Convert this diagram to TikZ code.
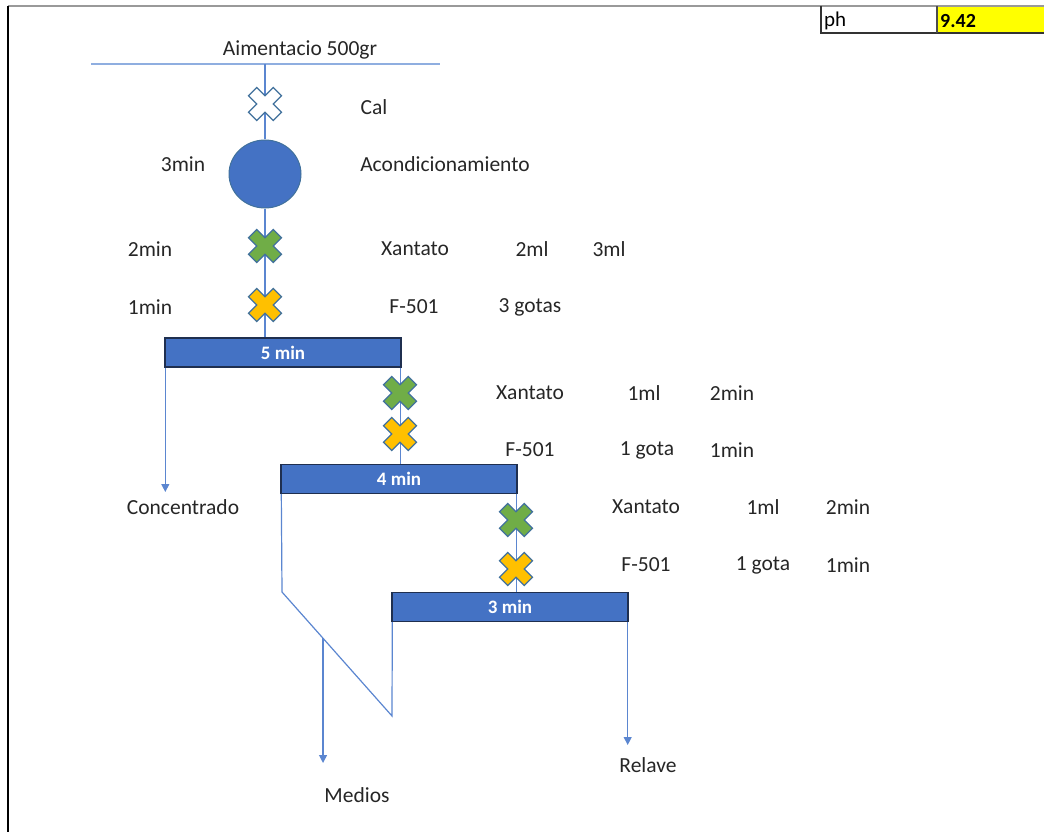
\documentclass[tikz,border=0pt]{standalone}
\usepackage{fontspec}
\setmainfont{Carlito}
\usetikzlibrary{arrows.meta,shapes.geometric,calc}
\definecolor{boxblue}{HTML}{4472C4}
\definecolor{boxedge}{HTML}{1F2F4F}
\definecolor{linec}{HTML}{5B86D0}
\definecolor{feedc}{HTML}{8FAEE0}
\definecolor{xedge}{HTML}{41719C}
\definecolor{xgreen}{HTML}{70AD47}
\definecolor{xyellow}{HTML}{FFC000}
\definecolor{txtc}{HTML}{262626}
\definecolor{cellyellow}{HTML}{FFFF00}
\begin{document}
\begin{tikzpicture}[x=1pt,y=-1pt,
  txt/.style={text=txtc,font=\fontsize{21.5}{25}\selectfont,inner sep=0pt},
  celltxt/.style={text=black,font=\fontsize{21}{24}\selectfont,inner sep=0pt,anchor=west},
  boxst/.style={draw=boxedge,line width=1.4pt,fill=boxblue,text=white,
    font=\bfseries\fontsize{19}{22}\selectfont,minimum width=236pt,minimum height=29pt,inner sep=0pt},
  flow/.style={draw=linec,line width=1.2pt},
  outflow/.style={flow,-{Triangle[width=8pt,length=8pt]}},
  xslot/.style={minimum size=32pt,inner sep=0pt,draw=none},
  pics/xcross/.style={code={
    \filldraw[draw=xedge,line width=1.2pt,fill=#1,rotate=45]
      (5.8,5.8) -- (17.5,5.8) -- (17.5,-5.8) -- (5.8,-5.8) -- (5.8,-17.5) -- (-5.8,-17.5)
      -- (-5.8,-5.8) -- (-17.5,-5.8) -- (-17.5,5.8) -- (-5.8,5.8) -- (-5.8,17.5) -- (5.8,17.5) -- cycle;}}
]
\useasboundingbox (0,0) rectangle (1044,832);
% frame
\draw[gray!80,line width=1.2pt] (8,6) -- (1044,6);
\draw[black,line width=2pt] (8,6) -- (8,832);
% ph cells
\fill[cellyellow] (937,7) rectangle (1044,32);
\draw[black!80,line width=1.2pt] (821,6) -- (821,33) -- (1044,33);
\draw[black!70,line width=1.2pt] (937,6) -- (937,33);
\node[celltxt] (ph) at (824,21) {ph};
\node[celltxt,font=\bfseries\fontsize{20}{24}\selectfont] (phv) at (940,21) {9.42};

% feed
\node[txt] (feedlbl) at (300,50) {Aimentacio 500gr};
\coordinate (feedL) at (91,64);
\coordinate (feedR) at (440,64);
\coordinate (feedM) at (265,64);
\draw[draw=feedc,line width=1.2pt] (feedL) -- (feedR);

% main boxes
\node[boxst] (b1) at (283,352.5) {5 min};
\node[boxst] (b2) at (399,479) {4 min};
\node[boxst] (b3) at (510,607) {3 min};

% conditioner
\node[ellipse,fill=boxblue,draw=xedge,line width=1pt,minimum width=72pt,minimum height=68pt,inner sep=0pt] (cond) at (265,174) {};

% slots for reagent crosses
\node[xslot] (x0) at (265,104) {};
\node[xslot] (x1) at (265,246) {};
\node[xslot] (x2) at (265,305) {};
\node[xslot] (x3) at (400,393) {};
\node[xslot] (x4) at (400,434) {};
\node[xslot] (x5) at (516,520) {};
\node[xslot] (x6) at (516,569) {};

% flow lines
\draw[flow] (feedM) -- (cond.north);
\draw[flow] (cond.south) -- (cond.south |- b1.north);
\draw[flow] ([xshift=-1pt]b1.south east) -- ([xshift=-1pt]b1.south east |- b2.north);
\draw[flow] ([xshift=-1pt]b2.south east) -- ([xshift=-1pt]b2.south east |- b3.north);

% crosses
\pic at (x0) {xcross=white};
\pic at (x1) {xcross=xgreen};
\pic at (x2) {xcross=xyellow};
\pic at (x3) {xcross=xgreen};
\pic at (x4) {xcross=xyellow};
\pic at (x5) {xcross=xgreen};
\pic at (x6) {xcross=xyellow};

% products
\coordinate (concA) at (166,492);
\draw[outflow] ([xshift=1pt]b1.south west) -- ([xshift=1pt]b1.south west |- concA);
\coordinate (relA) at (628,745);
\draw[outflow] ([xshift=-1pt]b3.south east) -- ([xshift=-1pt]b3.south east |- relA);
\coordinate (p1) at (282,592);
\coordinate (p2) at (392,716);
\draw[flow] ([xshift=1pt]b2.south west) -- (p1) -- (p2) -- ([xshift=1pt]b3.south west);
\coordinate (mtop) at ($(p1)!0.373!(p2)$);
\coordinate (medA) at (323,763);
\draw[outflow] (mtop) -- (mtop |- medA);

% labels
\node[txt] (lcal) at (374,107) {Cal};
\node[txt] (l3min) at (183,164) {3min};
\node[txt] (lacon) at (445,164) {Acondicionamiento};
\node[txt] (l2min) at (150,249) {2min};
\node[txt] (lxa1) at (415,249) {Xantato};
\node[txt] (l2ml) at (532,249) {2ml};
\node[txt] (l3ml) at (609,249) {3ml};
\node[txt] (l1min) at (150,307) {1min};
\node[txt] (lf1) at (414,307) {F-501};
\node[txt] (lg1) at (530,307) {3 gotas};

\node[txt] (lxa2) at (530,393) {Xantato};
\node[txt] (lm2) at (644,393) {1ml};
\node[txt] (lt2) at (732,393) {2min};
\node[txt] (lf2) at (530,450) {F-501};
\node[txt] (lg2) at (647,450) {1 gota};
\node[txt] (lt2b) at (732,450) {1min};

\node[txt] (lxa3) at (646,507) {Xantato};
\node[txt] (lm3) at (763,507) {1ml};
\node[txt] (lt3) at (848,507) {2min};
\node[txt] (lf3) at (646,565) {F-501};
\node[txt] (lg3) at (763,565) {1 gota};
\node[txt] (lt3b) at (848,565) {1min};

\node[txt] (lconc) at (183,507) {Concentrado};
\node[txt] (lmed) at (357,795) {Medios};
\node[txt] (lrel) at (648,765) {Relave};
\end{tikzpicture}
\end{document}
